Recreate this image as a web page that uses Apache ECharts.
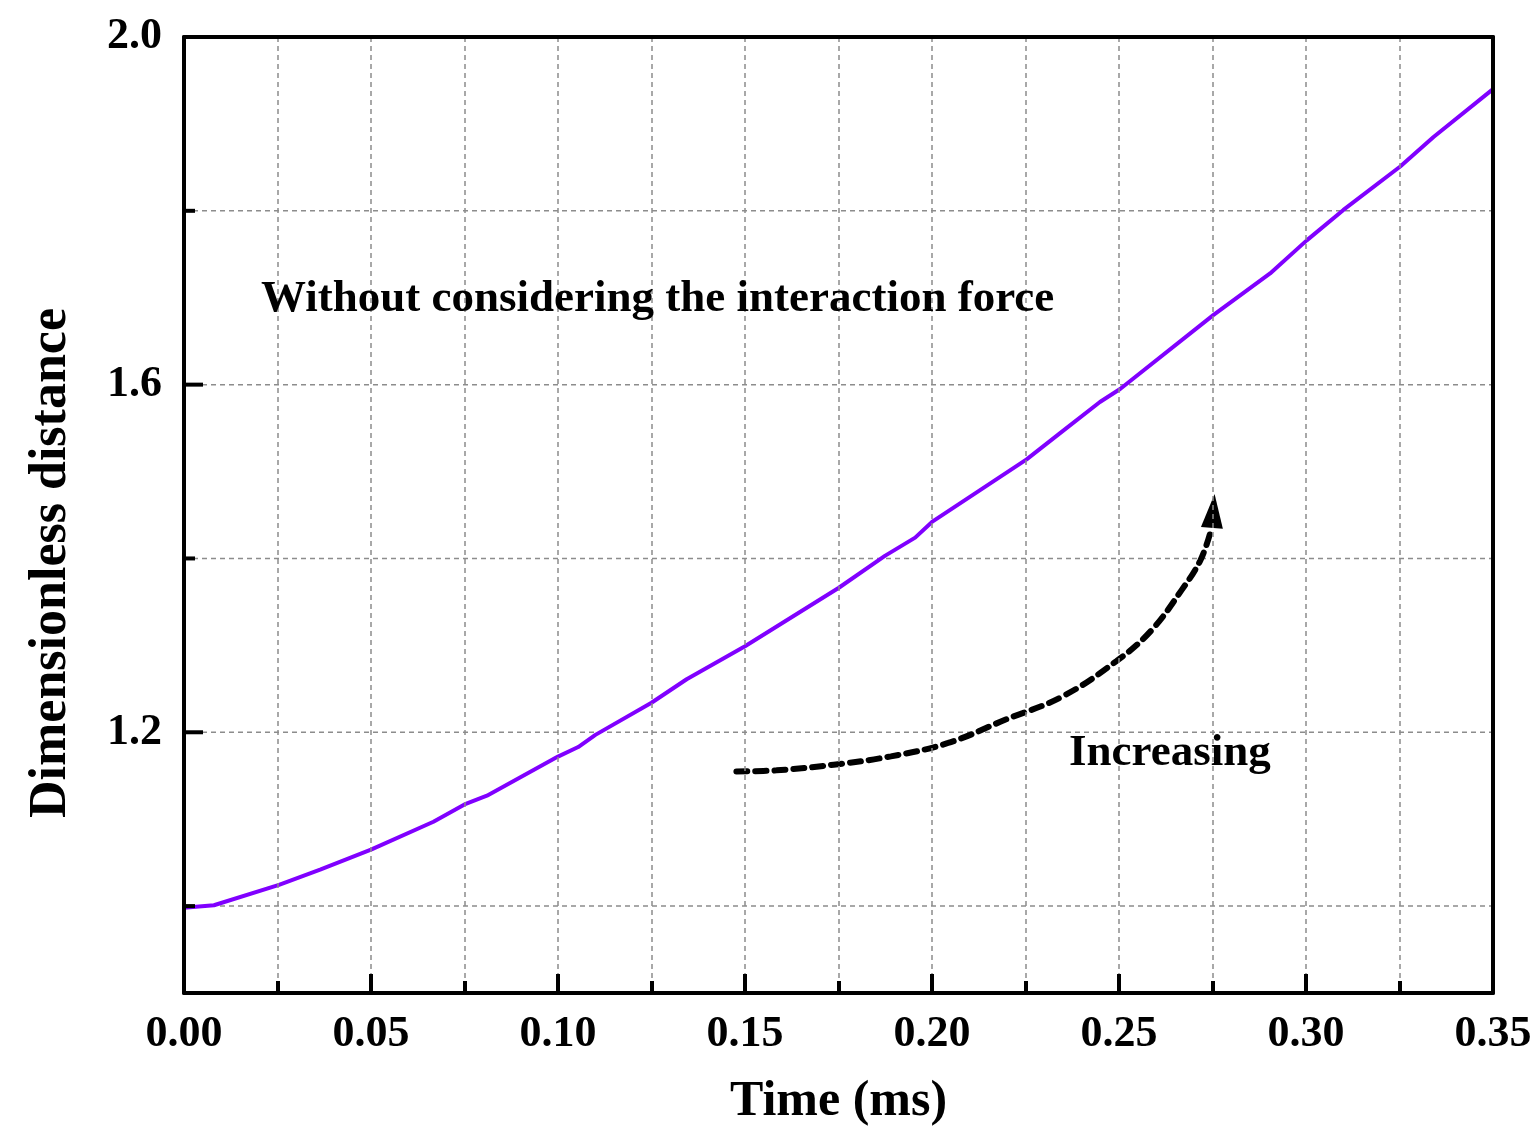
<!DOCTYPE html>
<html>
<head>
<meta charset="utf-8">
<script src="https://cdn.jsdelivr.net/npm/echarts@6/dist/echarts.min.js"></script>
<style>
html,body{margin:0;padding:0;background:#fff;}
#chart{width:1537px;height:1133px;}
</style>
</head>
<body>
<div id="chart"></div>
<script>
// ---- data ----
const timeMs = [0, 0.008, 0.0254, 0.0364, 0.050, 0.0667, 0.075, 0.081, 0.100, 0.1054, 0.110, 0.125, 0.1344, 0.150, 0.175, 0.1874, 0.1955, 0.200, 0.2253, 0.2351, 0.2449, 0.2503, 0.2752, 0.2904, 0.3002, 0.310, 0.3252, 0.3341, 0.35];
const distance = [0.998, 1.001, 1.0245, 1.042, 1.065, 1.097, 1.117, 1.127, 1.172, 1.183, 1.197, 1.234, 1.261, 1.299, 1.366, 1.403, 1.424, 1.442, 1.514, 1.547, 1.580, 1.595, 1.680, 1.728, 1.766, 1.801, 1.851, 1.885, 1.940];

const arrowT = [0.1477, 0.1584, 0.1737, 0.189, 0.2043, 0.2197, 0.235, 0.2493, 0.2585, 0.2666, 0.2717, 0.2743];
const arrowV = [1.155, 1.1562, 1.1627, 1.1723, 1.1877, 1.2146, 1.2415, 1.2819, 1.3165, 1.3627, 1.3973, 1.4281];
const arrowHead = [0.2752, 1.4546];

const xMin = 0, xMax = 0.35, xStep = 0.05;
const yMin = 0.9, yMax = 2.0;
const yLabels = [1.2, 1.6, 2.0];
const yGridValues = [1.0, 1.2, 1.4, 1.6, 1.8];
const yMajorTicks = [1.2, 1.6, 2.0];
const yMinorTicks = [1.0, 1.4, 1.8];

const noteText = 'Without considering the interaction force';
const arrowText = 'Increasing';
const xName = 'Time (ms)';
const yName = 'Dimensionless distance';

// ---- chart ----
const FONT = '"Times New Roman", "Liberation Serif", serif';
const gridColor = '#8c8c8c';
const chart = echarts.init(document.getElementById('chart'), null, {renderer: 'canvas'});

function tickSeries(values, len) {
  return {
    type: 'custom',
    silent: true,
    z: 6,
    clip: false,
    data: values.map(v => [xMin, v]),
    renderItem: function (params, api) {
      const p = api.coord([xMin, api.value(1)]);
      return {
        type: 'line',
        shape: {x1: p[0], y1: p[1], x2: p[0] + len, y2: p[1]},
        style: {stroke: '#000', lineWidth: 4}
      };
    }
  };
}

const frameAxis = {
  axisLine: {show: true, onZero: false, lineStyle: {color: '#000', width: 4}},
  axisTick: {show: false},
  axisLabel: {show: false},
  splitLine: {show: false},
  z: 8
};

const option = {
  backgroundColor: '#fff',
  animation: false,
  grid: {left: 184, right: 44, top: 37, bottom: 140},
  xAxis: [{
    type: 'value',
    min: xMin, max: xMax, interval: xStep,
    name: xName,
    nameLocation: 'middle',
    nameGap: 84,
    nameTextStyle: {fontFamily: FONT, fontWeight: 'bold', fontSize: 50, color: '#000'},
    axisLine: {show: true, onZero: false, lineStyle: {color: '#000', width: 4}},
    axisTick: {show: true, inside: true, length: 19, lineStyle: {color: '#000', width: 4}},
    minorTick: {show: true, splitNumber: 2, length: 12, lineStyle: {color: '#000', width: 4}},
    axisLabel: {
      show: true, margin: 20, fontFamily: FONT, fontWeight: 'bold', fontSize: 44, color: '#000',
      showMinLabel: true, showMaxLabel: true,
      formatter: v => v.toFixed(2)
    },
    splitLine: {show: true, showMinLine: false, showMaxLine: false, lineStyle: {color: gridColor, width: 1.5, type: [5, 4]}},
    minorSplitLine: {show: true, lineStyle: {color: gridColor, width: 1.5, type: [5, 4]}},
    z: 8
  }, Object.assign({type: 'value', position: 'top', min: xMin, max: xMax}, frameAxis)],
  yAxis: [{
    type: 'value',
    min: yMin, max: yMax, interval: 0.1,
    axisLine: {show: true, onZero: false, lineStyle: {color: '#000', width: 4}},
    axisTick: {show: false},
    axisLabel: {
      show: true, margin: 22, fontFamily: FONT, fontWeight: 'bold', fontSize: 44, color: '#000',
      showMinLabel: true, showMaxLabel: true,
      formatter: v => (yLabels.some(l => Math.abs(l - v) < 1e-6) ? v.toFixed(1) : '')
    },
    splitLine: {show: false},
    z: 8
  }, Object.assign({type: 'value', position: 'right', min: yMin, max: yMax}, frameAxis)],
  graphic: [
    {
      type: 'text', left: 261, top: 277, z: 10,
      style: {text: noteText, fontFamily: FONT, fontWeight: 'bold', fontSize: 45, fill: '#000'}
    },
    {
      type: 'text', left: 1069, top: 731, z: 10,
      style: {text: arrowText, fontFamily: FONT, fontWeight: 'bold', fontSize: 45, fill: '#000'}
    },
    {
      type: 'text', x: 52, y: 563, rotation: Math.PI / 2, z: 10,
      style: {text: yName, fontFamily: FONT, fontWeight: 'bold', fontSize: 52, fill: '#000',
              align: 'center', verticalAlign: 'middle'}
    }
  ],
  series: [
    {
      type: 'custom',
      silent: true,
      z: 1,
      data: yGridValues.map(v => [xMin, v]),
      renderItem: function (params, api) {
        const a = api.coord([xMin, api.value(1)]);
        const b = api.coord([xMax, api.value(1)]);
        return {
          type: 'line',
          shape: {x1: a[0], y1: a[1], x2: b[0], y2: b[1]},
          style: {stroke: gridColor, lineWidth: 1.5, lineDash: [5, 4]}
        };
      }
    },
    tickSeries(yMajorTicks, 19),
    tickSeries(yMinorTicks, 11),
    {
      type: 'line',
      z: 4,
      data: timeMs.map((t, i) => [t, distance[i]]),
      showSymbol: false,
      symbol: 'none',
      lineStyle: {color: '#8000ff', width: 4},
      itemStyle: {color: '#8000ff'}
    },
    {
      type: 'line',
      z: 5,
      smooth: 0.4,
      data: arrowT.map((t, i) => [t, arrowV[i]]),
      showSymbol: false,
      symbol: 'none',
      lineStyle: {color: '#000', width: 6, type: [11, 8], cap: 'round'}
    },
    {
      type: 'scatter',
      z: 5,
      data: [arrowHead],
      symbol: 'triangle',
      symbolSize: [22, 34],
      symbolRotate: -4.5,
      itemStyle: {color: '#000', opacity: 1}
    }
  ]
};
chart.setOption(option);
</script>
</body>
</html>
